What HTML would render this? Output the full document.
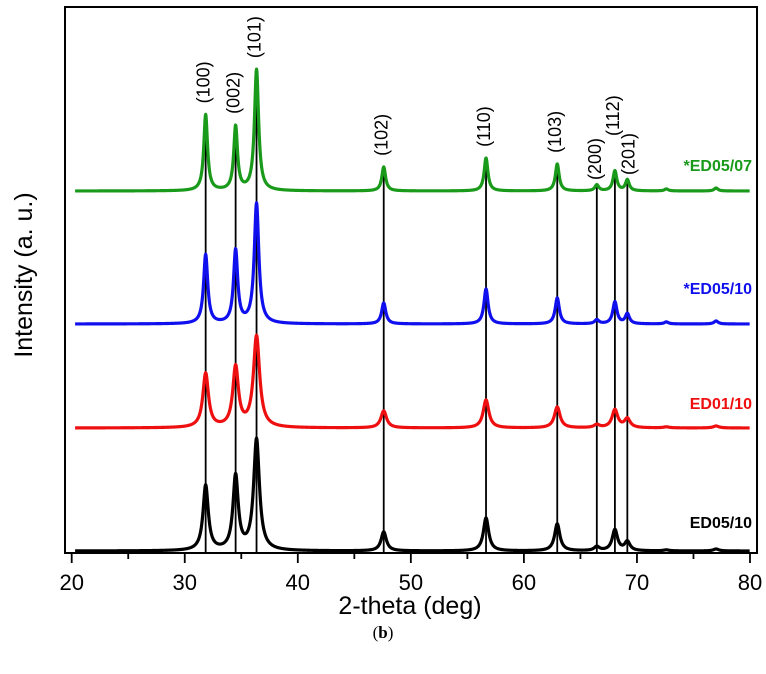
<!DOCTYPE html>
<html><head><meta charset="utf-8"><style>
html,body{margin:0;padding:0;background:#fff;}
svg{display:block;font-family:"Liberation Sans",Arial,sans-serif;}
</style></head><body>
<svg id="chart" width="766" height="674" viewBox="0 0 766 674" xmlns="http://www.w3.org/2000/svg">
<g id="plot"></g>
<g id="axes"></g>
</svg>
<script>
const xTicks = [20,30,40,50,60,70,80];
const peakPos = [31.85,34.5,36.35,47.6,56.65,62.95,66.45,68.05,69.15,72.6,77.0];
const hklLabels = ["(100)","(002)","(101)","(102)","(110)","(103)","(200)","(112)","(201)"];
const seriesNames = ["*ED05/07","*ED05/10","ED01/10","ED05/10"];
const seriesColors = ["#1a9a1a","#1010ee","#ee1010","#000000"];
const seriesOffsets = [362,229,125,2];
const greenHeights = [76,64,121,24,33,27,6,20,11,2,3];
const blueHeights = [69,73,120,21,35,26,4,22,10,2,3];
const redHeights = [54,60,91,17,28,21,3,18,9,1,2];
const blackHeights = [65,74,111,19,33,27,4,21,9,1,2];
const seriesWidths = [0.2,0.22,0.3,0.28];
const labelY = [171,294,409,528];

const X0=71.7, X1=750, L=65, R=757, T=7, B=553;
const xS = v => X0 + (v-20)*(X1-X0)/60;
const yS = v => B - v;
const NS="http://www.w3.org/2000/svg";
function mk(tag, attrs, parent){const e=document.createElementNS(NS,tag);for(const k in attrs)e.setAttribute(k,attrs[k]);parent.appendChild(e);return e;}
const plot=document.getElementById('plot'), axes=document.getElementById('axes');
const allH=[greenHeights,blueHeights,redHeights,blackHeights];

function inten(si,x){
  const h=allH[si], w=seriesWidths[si];
  let s=0;
  for(let i=0;i<peakPos.length;i++){
    const ww = i===2 ? w*1.1 : w;
    const d=(x-peakPos[i])/ww;
    s+=h[i]/(1+d*d);
  }
  return s;
}
function peakVal(si,i){return inten(si,peakPos[i]);}

for(let i=0;i<hklLabels.length;i++){
  const ln=mk('line',{x1:xS(peakPos[i]),x2:xS(peakPos[i]),y1:yS(seriesOffsets[0]+peakVal(0,i)),y2:B,stroke:'#000','stroke-width':1.8},plot);
  
  
}
for(let s=0;s<4;s++){
  let d='';
  for(let x=20.3;x<=80;x+=0.03){
    const y=yS(seriesOffsets[s]+inten(s,x));
    d+=(d?'L':'M')+xS(x).toFixed(2)+','+y.toFixed(2);
  }
  const p=mk('path',{d:d,fill:'none',stroke:seriesColors[s],'stroke-width':3.2,'stroke-linejoin':'round'},plot);
  
  
  const t=mk('text',{x:752,y:labelY[s],'text-anchor':'end','font-size':16,'font-weight':'bold',fill:seriesColors[s]},plot);
  t.textContent=seriesNames[s];
  
  
}
for(let i=0;i<hklLabels.length;i++){
  const x=xS(peakPos[i]);
  let yy=yS(seriesOffsets[0]+peakVal(0,i))-11;
  let xx=x+4;
  if(i===7) yy=136;
  if(i===8){ yy=175; xx=x+7; }
  if(i===6) yy=180;
  const t=mk('text',{x:0,y:0,'font-size':18,fill:'#000',transform:`translate(${xx},${yy}) rotate(-90)`},plot);
  t.textContent=hklLabels[i];
  
  
}
const fr=mk('rect',{x:L,y:T,width:R-L,height:B-T,fill:'none',stroke:'#000','stroke-width':2},axes);


for(let v=20;v<=80;v+=5){
  const major=v%10===0;
  const tk=mk('line',{x1:xS(v),x2:xS(v),y1:B,y2:B+(major?10:6),stroke:'#000','stroke-width':1.8},axes);
  
  
}
xTicks.forEach(v=>{
  const t=mk('text',{x:xS(v),y:590,'text-anchor':'middle','font-size':22,fill:'#000'},axes);
  t.textContent=v;
  
  
});
const xt=mk('text',{x:410,y:614,'text-anchor':'middle','font-size':25,fill:'#000'},axes);
xt.textContent='2-theta (deg)';


const yt=mk('text',{x:0,y:0,'text-anchor':'middle','font-size':25,fill:'#000',transform:'translate(32,275) rotate(-90)'},axes);
yt.textContent='Intensity (a. u.)';


const cap=mk('text',{x:383,y:638,'text-anchor':'middle','font-size':17,fill:'#000','font-family':'Liberation Serif, serif'},axes);
cap.innerHTML='(<tspan font-weight="bold">b</tspan>)';


</script>
</body></html>
